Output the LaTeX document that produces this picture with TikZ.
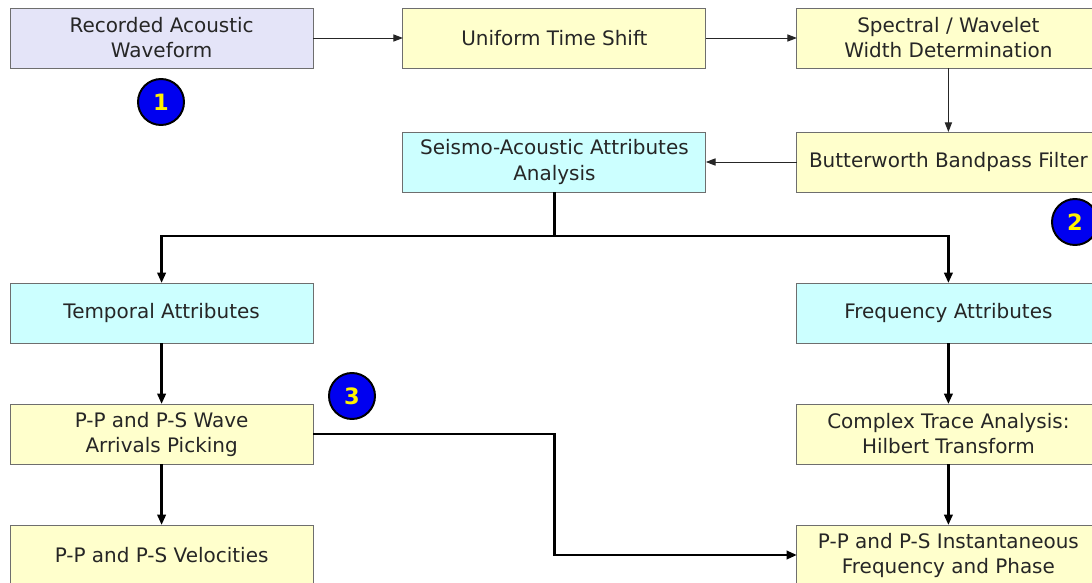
\documentclass[tikz,border=0pt]{standalone}
\usepackage{fontspec}
\setmainfont{DejaVu Sans}
\usetikzlibrary{arrows.meta}
\definecolor{FlowInk}{HTML}{262626}
\definecolor{FlowRule}{HTML}{6E6E6E}
\definecolor{FlowLilac}{HTML}{E4E4F8}
\definecolor{FlowCream}{HTML}{FFFFCC}
\definecolor{FlowCyan}{HTML}{CCFFFF}
\definecolor{FlowBlue}{HTML}{0000F0}
\definecolor{FlowYellow}{HTML}{FFF200}

\begin{document}
\begin{tikzpicture}[
    font=\fontsize{14.2}{17.8}\selectfont,
    stage/.style={
        draw=FlowRule,
        line width=0.7pt,
        minimum width=7.575cm,
        minimum height=1.5cm,
        inner sep=0pt,
        outer sep=0pt,
        align=center,
        text=FlowInk
    },
    input/.style={stage, fill=FlowLilac},
    process/.style={stage, fill=FlowCream},
    attribute/.style={stage, fill=FlowCyan},
    badge/.style={circle, draw=black, line width=1.4pt, fill=FlowBlue,
                  minimum size=1.15cm, inner sep=0pt,
                  text=FlowYellow, font=\fontsize{16}{16}\selectfont\bfseries},
    thin flow/.style={-{Triangle[length=2.4mm,width=1.8mm]},
                      draw=FlowInk, line width=0.7pt},
    thick flow/.style={-{Triangle[length=2.6mm,width=2.1mm]},
                       draw=black, line width=1.8pt}
]
    \useasboundingbox (0,0) rectangle (27.3,-14.575);

    % Preprocessing chain.
    \node[input] (wave) at (4.04,-0.95) {Recorded Acoustic\\Waveform};
    \node[process] (shift) at (13.86,-0.95) {Uniform Time Shift};
    \node[process] (width) at (23.71,-0.95) {Spectral / Wavelet\\Width Determination};
    \node[process] (filter) at (23.71,-4.05) {Butterworth Bandpass Filter};
    \node[attribute] (analysis) at (13.86,-4.05) {Seismo-Acoustic Attributes\\Analysis};

    \draw[thin flow] (wave) -- (shift);
    \draw[thin flow] (shift) -- (width);
    \draw[thin flow] (width) -- (filter);
    \draw[thin flow] (filter) -- (analysis);

    % Attribute branches.
    \node[attribute] (temporal) at (4.04,-7.825) {Temporal Attributes};
    \node[attribute] (frequency) at (23.71,-7.825) {Frequency Attributes};
    \node[process] (picking) at (4.04,-10.85) {P-P and P-S Wave\\Arrivals Picking};
    \node[process] (hilbert) at (23.71,-10.85) {Complex Trace Analysis:\\Hilbert Transform};
    \node[process] (velocities) at (4.04,-13.875) {P-P and P-S Velocities};
    \node[process] (instant) at (23.71,-13.875) {P-P and P-S Instantaneous\\Frequency and Phase};

    \coordinate (split) at (13.86,-5.9);
    \draw[line width=1.8pt] (analysis.south) -- (split);
    \draw[thick flow] (split) -| (temporal.north);
    \draw[thick flow] (split) -| (frequency.north);

    \draw[thick flow] (temporal) -- (picking);
    \draw[thick flow] (picking) -- (velocities);
    \draw[thick flow] (frequency) -- (hilbert);
    \draw[thick flow] (hilbert) -- (instant);
    \draw[thick flow] (picking.east) -| (13.86,-13.875) -- (instant.west);

    % Step markers.
    \node[badge] (one) at (4.025,-2.55) {1};
    \node[badge] (two) at (26.875,-5.55) {2};
    \node[badge] (three) at (8.8,-9.9) {3};
\end{tikzpicture}
\end{document}
